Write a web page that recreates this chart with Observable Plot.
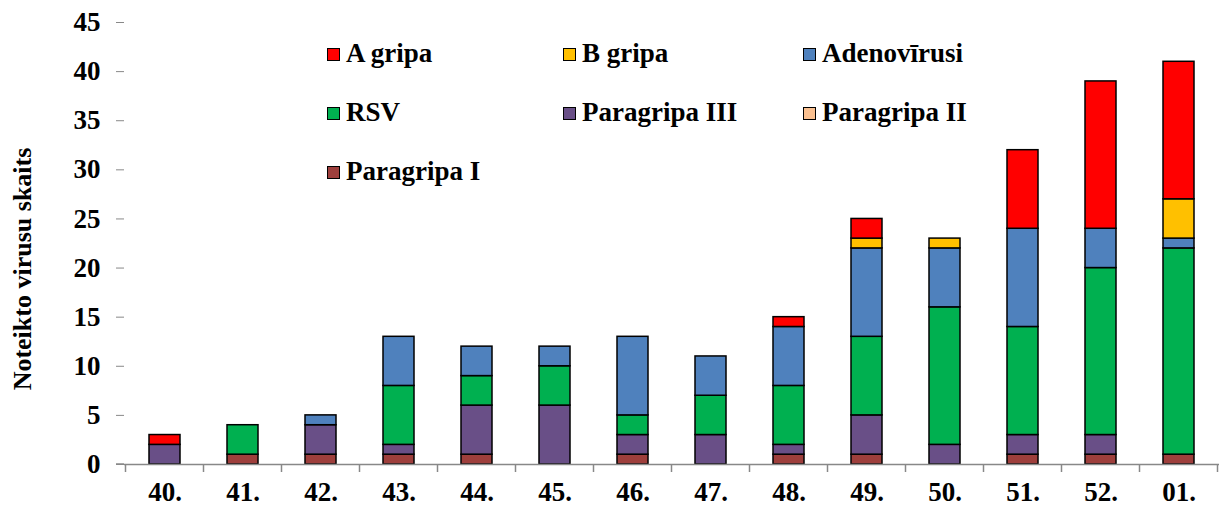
<!DOCTYPE html>
<html>
<head>
<meta charset="utf-8">
<script src="https://cdn.jsdelivr.net/npm/d3@7"></script>
<script src="https://cdn.jsdelivr.net/npm/@observablehq/plot@0.6"></script>
<style>
  body { margin: 0; background: #fff; }
  #wrap { position: relative; width: 1222px; height: 506px; font-family: "Liberation Serif", "Times New Roman", serif; }
  .li { position: absolute; font-weight: bold; font-size: 27px; color: #000; white-space: nowrap; line-height: 26px; }
  .sw { position: absolute; width: 11px; height: 11px; border: 1px solid #000; }
  .ylab { position: absolute; left: 23px; top: 269px; transform: translate(-50%, -50%) rotate(-90deg); font-weight: bold; font-size: 26px; white-space: nowrap; line-height: 26px; }
</style>
</head>
<body>
<div id="wrap"></div>
<script>
const weeks = ["40.", "41.", "42.", "43.", "44.", "45.", "46.", "47.", "48.", "49.", "50.", "51.", "52.", "01."];
const paragripaI   = [0, 1, 1, 1, 1, 0, 1, 0, 1, 1, 0, 1, 1, 1];
const paragripaII  = [0, 0, 0, 0, 0, 0, 0, 0, 0, 0, 0, 0, 0, 0];
const paragripaIII = [2, 0, 3, 1, 5, 6, 2, 3, 1, 4, 2, 2, 2, 0];
const rsv          = [0, 3, 0, 6, 3, 4, 2, 4, 6, 8, 14, 11, 17, 21];
const adeno        = [0, 0, 1, 5, 3, 2, 8, 4, 6, 9, 6, 10, 4, 1];
const bGripa       = [0, 0, 0, 0, 0, 0, 0, 0, 0, 1, 1, 0, 0, 4];
const aGripa       = [1, 0, 0, 0, 0, 0, 0, 0, 1, 2, 0, 8, 15, 14];
const yTicks = [0, 5, 10, 15, 20, 25, 30, 35, 40, 45];

const seriesNames = ["Paragripa I", "Paragripa II", "Paragripa III", "RSV", "Adenovīrusi", "B gripa", "A gripa"];
const seriesVals = [paragripaI, paragripaII, paragripaIII, rsv, adeno, bGripa, aGripa];
const colors = ["#9E3F3C", "#FAC090", "#694F87", "#00B050", "#4F81BD", "#FFC000", "#FF0000"];
const legendOrder = ["A gripa", "B gripa", "Adenovīrusi", "RSV", "Paragripa III", "Paragripa II", "Paragripa I"];

const data = [];
seriesNames.forEach((s, i) => weeks.forEach((w, j) => data.push({week: w, series: s, value: seriesVals[i][j]})));

const font = "Liberation Serif";
const plot = Plot.plot({
  width: 1222, height: 506,
  marginLeft: 124, marginRight: 3, marginTop: 22, marginBottom: 42,
  style: {fontFamily: font, fontSize: "27px", fontWeight: "bold", color: "#000", background: "#fff"},
  x: {domain: weeks, paddingInner: 0.6, paddingOuter: 0.3, label: null},
  y: {domain: [0, 45], label: null},
  color: {domain: seriesNames, range: colors},
  marks: [
    Plot.barY(data, Plot.stackY({x: "week", y: "value", fill: "series", order: seriesNames, stroke: "#000", strokeWidth: 1.5})),
    Plot.ruleY([0], {stroke: "#888", strokeWidth: 1.5}),
    Plot.ruleX([0], {frameAnchor: "left", stroke: "#888", strokeWidth: 1.5}),
    Plot.axisY({ticks: yTicks, tickSize: 8, tickPadding: 16, stroke: "#888", label: null, fontSize: 27, fontWeight: "bold"}),
    Plot.axisX({tickSize: 0, tickPadding: 17, label: null, fontSize: 27, fontWeight: "bold"})
  ]
});

const wrap = document.getElementById("wrap");
wrap.appendChild(plot);

const svg = d3.select(plot);
svg.selectAll("text").style("font-size", "27px").style("font-weight", "bold").style("font-family", font).attr("fill", "#000");

// x ticks between categories, derived from the band scale
const xs = plot.scale("x");
const step = xs.step;
const y0 = plot.scale("y").apply(0);
const bounds = weeks.map(w => xs.apply(w) + xs.bandwidth / 2 - step / 2);
bounds.push(xs.apply(weeks[weeks.length - 1]) + xs.bandwidth / 2 + step / 2);
svg.append("g").selectAll("line").data(bounds).join("line")
  .attr("x1", d => d).attr("x2", d => d).attr("y1", y0).attr("y2", y0 + 8)
  .attr("stroke", "#888").attr("stroke-width", 1.5);
svg.append("line").attr("x1", 116).attr("x2", 124).attr("y1", y0).attr("y2", y0).attr("stroke", "#888").attr("stroke-width", 1.5);

// y label
const yl = document.createElement("div");
yl.className = "ylab";
yl.textContent = "Noteikto virusu skaits";
wrap.appendChild(yl);

// legend (square left, text top)
const legPos = [[327, 40], [563, 40], [803, 40], [327, 99], [563, 99], [803, 99], [327, 158]];
legendOrder.forEach((name, k) => {
  const c = colors[seriesNames.indexOf(name)];
  const sq = document.createElement("div");
  sq.className = "sw";
  sq.style.left = legPos[k][0] + "px";
  sq.style.top = (legPos[k][1] + 8) + "px";
  sq.style.background = c;
  wrap.appendChild(sq);
  const d = document.createElement("div");
  d.className = "li";
  d.style.left = (legPos[k][0] + 19) + "px";
  d.style.top = legPos[k][1] + "px";
  d.textContent = name;
  wrap.appendChild(d);
});
</script>
</body>
</html>
